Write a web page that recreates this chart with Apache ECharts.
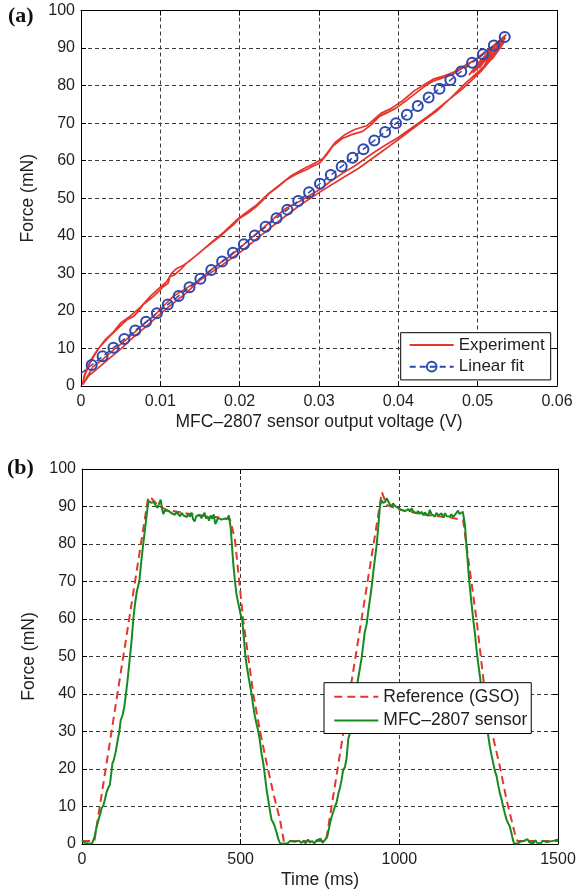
<!DOCTYPE html>
<html>
<head>
<meta charset="utf-8">
<script src="https://cdn.jsdelivr.net/npm/echarts@6/dist/echarts.min.js"></script>
<style>
html,body{margin:0;padding:0;background:#fff;}
#chart{width:583px;height:893px;}
</style>
</head>
<body>
<div id="chart"></div>
<script>
// ---------- Panel (a): force vs. sensor output voltage ----------
const expV = [
0.0003,0.0015,0.0028,0.0041,0.0053,0.0066,0.0078,0.0091,0.0104,0.0116,0.0131,0.0146,0.0160,0.0175,0.0188,0.0200,0.0215,0.0229,0.0244,0.0259,0.0276,0.0290,0.0301,0.0315,0.0330,0.0345,0.0359,0.0372,0.0385,0.0400,0.0414,0.0428,0.0443,0.0454,0.0464,0.0475,0.0485,0.0495,0.0504,0.0512,0.0519,0.0527,0.0535,
0.0522,0.0530,0.0515,0.0526,0.0508,0.0520,0.0502,0.0512,0.0497,0.0507,0.0489,0.0503,0.0536,
0.0527,0.0519,0.0510,0.0502,0.0493,0.0485,0.0476,0.0468,0.0455,0.0443,0.0432,0.0422,0.0410,0.0397,0.0386,0.0376,0.0366,0.0355,0.0342,0.0330,0.0317,0.0309,0.0301,0.0292,0.0284,0.0271,0.0259,0.0248,0.0238,0.0229,0.0221,0.0210,0.0200,0.0192,0.0183,0.0175,0.0164,0.0154,0.0143,0.0133,0.0125,0.0118,0.0112,0.0110,0.0104,0.0097,0.0091,0.0084,0.0078,0.0072,0.0066,0.0059,0.0053,0.0044,0.0036,0.0029,0.0024,0.0017,0.0011,0.0006,0.0003,
0.0002,0.0010,0.0020,0.0035,0.0050,0.0065,0.0080,0.0095,0.0110,0.0130,0.0150,0.0175,0.0200,0.0225,0.0250,0.0275,0.0300,0.0325,0.0350,0.0375,0.0400,0.0425,0.0450,0.0465,0.0480,0.0493,0.0505,0.0515,0.0525,0.0533,
0.0518,0.0529,0.0511,0.0524,0.0504,0.0517,0.0494,0.0510,0.0532,
0.0524,0.0514,0.0500,0.0486,0.0470,0.0458,0.0445,0.0434,0.0420,0.0405,0.0390,0.0378,0.0360,0.0345,0.0333,0.0320,0.0305,0.0295,0.0280,0.0265,0.0250,0.0235,0.0220,0.0205,0.0195,0.0180,0.0165,0.0150,0.0138,0.0128,0.0120,0.0114,0.0108,0.0100,0.0088,0.0075,0.0062,0.0050,0.0040,0.0030,0.0020,0.0012,0.0006,0.0003
];
const expF = [
0.7,5.1,7.2,9.6,11.6,14.0,16.3,18.5,21.3,23.8,25.8,27.8,30.3,32.7,34.6,36.7,39.5,42.0,44.8,47.4,49.2,51.0,52.3,54.6,56.7,58.6,60.7,62.6,64.3,66.2,68.3,70.4,72.7,74.6,76.3,78.6,80.7,82.6,84.3,86.0,88.3,90.4,92.8,
88.6,91.8,86.8,90.6,85.2,89.9,84.6,88.2,84.5,87.2,82.8,86.6,93.6,
92.0,90.5,89.1,87.8,86.4,85.2,84.0,82.9,82.0,81.1,79.6,78.0,76.0,74.0,72.8,71.8,69.6,67.8,67.0,66.0,63.8,61.4,59.4,58.5,57.6,56.4,54.9,53.0,51.4,49.4,47.8,46.0,44.7,42.9,41.3,39.8,38.0,36.3,34.4,32.7,30.9,29.6,29.1,27.4,26.5,25.0,23.8,22.6,21.6,19.8,18.5,17.8,16.7,14.8,13.2,11.6,10.5,8.2,6.0,3.5,1.6,
0.3,2.8,4.5,7.2,9.8,12.8,15.5,18.3,21.0,24.3,28.2,31.8,35.5,39.8,44.0,48.0,51.5,54.8,58.0,61.8,65.6,69.6,73.5,76.5,79.0,81.5,84.0,86.5,89.0,91.5,
87.0,90.2,85.6,88.9,85.9,88.4,83.4,87.5,92.6,
91.2,89.5,87.2,85.6,83.6,82.6,81.8,80.4,78.6,75.9,73.8,72.6,69.3,68.3,67.0,64.8,60.6,59.4,57.8,56.0,53.5,51.0,48.0,45.7,44.0,41.0,38.4,35.6,33.5,32.0,31.2,30.0,27.8,26.3,24.0,21.0,18.6,16.8,14.2,12.2,9.4,6.8,4.0,2.0
];
// Linear fit (first entry is the line start at the axis, drawn without a marker)
const fitV = [0,0.00135,0.00272,0.00409,0.00546,0.00683,0.00820,0.00957,0.01094,0.01231,0.01368,0.01505,0.01642,0.01779,0.01916,0.02053,0.02190,0.02327,0.02464,0.02601,0.02738,0.02875,0.03012,0.03149,0.03286,0.03423,0.03560,0.03697,0.03834,0.03971,0.04108,0.04245,0.04382,0.04519,0.04656,0.04793,0.04930,0.05067,0.05204,0.05341];
const fitF = [3.33,5.60,7.89,10.19,12.49,14.79,17.09,19.39,21.69,23.99,26.29,28.58,30.88,33.18,35.48,37.78,40.08,42.38,44.68,46.97,49.27,51.57,53.87,56.17,58.47,60.77,63.07,65.37,67.66,69.96,72.26,74.56,76.86,79.16,81.46,83.76,86.06,88.35,90.65,92.95];

// ---------- Panel (b): force vs. time ----------
const refT = [0,39,209,219,240,267,300,361,420,466,470,482,508,540,561,582,603,624,636,769,945,960,1002,1086,1159,1201,1212,1243.5,1270,1291,1317,1338,1364,1372,1500];
const refF = [0.8,0.8,92.6,92.2,90.2,89.1,88.6,87.7,87.2,86.6,85.5,81.1,59.7,39.9,30.1,21.5,13.5,6.4,0.8,0.8,93.8,90.4,89.1,87.7,87.1,86.4,79.3,59.7,40.2,30.1,20.6,11.7,2.8,0.8,0.8];

const senT = [
0,4,8,12,16,20,24,28,32,36,40,46,52,58,62,67,72,78,84,88,93.5,96,100,106,112,117.6,122,128,133,138.6,144,150,156,161.7,167,173,180.6,187,193,200,207,210,214,218,222,226,232,238,244,248,252,256,261,266,272,277,282,288,293,298,304,309,314,320,325,330,335,340,345,350,355,360,366,371,376,381,386,391,396,400,405,410,415,420,424,429,434,439,444,448,453,458,463,466,
469,473,477,482,487,493,499,505,510,515,520,526,534.6,540,545,550,555.6,561,566,571.3,576,581.8,586,590,594,597.6,602,607,613.4,618,623.8,
628,635,640,648,656,662,670,676,684,690,698,705,712,718,725,732,740,746,752,758,764,769,
773,778,781.4,786,790,797,802,808,813,818,823,828.6,834,839,844,849,855,860,865,870,876,881,886,891,896.7,902,907,912,918,923,928,933,938.7,941,944,
948,952,955,960,965,970,975.6,980,986,991,996,1002,1007,1012,1018,1023,1028,1033,1039,1044,1049,1054,1059,1065,1070,1075,1080,1086,1091,1096,1101,1107,1112,1117,1122,1128,1133,1138,1144,1149,1154,1159,1164,1170,1175,1180,1185,1190,1196,1200,1204,
1207,1210,1214,1218,1222,1227,1232,1238,1243,1248,1254,1259,1264,1270,1275,1280,1285,1291,1296,1301,1306.5,1312,1317,1322,1327,1333,1338,1343,1348,1353,1357,1361,
1367,1373,1380,1386,1392,1398,1404,1410,1416,1422,1428,1434,1440,1446,1452,1458,1464,1470,1476,1482,1488,1494,1500
];
const senF = [
1.0,0.8,0.3,0.6,0.2,0.5,0.1,0.4,0.2,0.6,2.0,4.6,6.5,8.2,9.6,10.2,11.8,14.0,15.2,15.8,19.8,21.6,22.3,24.5,27.5,30.0,33.0,34.4,36.5,40.0,44.0,49.0,54.0,60.0,64.0,67.5,70.0,75.5,80.0,85.0,90.0,91.5,91.7,91.0,90.6,91.2,90.3,89.6,91.0,91.8,89.5,88.0,88.9,88.4,88.9,88.6,88.2,88.6,87.8,88.5,88.0,87.4,88.3,87.6,87.9,87.2,88.0,87.3,88.4,86.6,86.0,87.4,87.0,87.8,86.9,87.6,88.3,86.8,87.4,86.2,87.6,86.7,87.9,85.3,86.0,87.0,87.3,86.5,86.1,86.7,86.3,86.8,87.6,87.3,
84.0,79.0,74.5,70.0,66.5,64.0,61.5,59.7,55.0,50.0,47.0,44.0,39.9,36.5,34.0,32.0,30.1,27.3,24.0,21.5,18.5,14.4,12.3,10.1,8.0,6.4,5.8,4.8,3.0,1.5,0.2,
0.4,0.1,0.5,0.2,0.8,0.3,0.6,0.1,0.9,0.3,0.7,0.2,1.2,0.4,0.8,0.2,1.0,0.5,1.4,0.3,0.9,0.5,
2.0,4.0,5.5,7.0,7.5,10.0,11.0,13.5,15.0,17.1,19.8,20.5,23.0,28.0,29.5,32.5,38.5,40.0,41.5,44.0,47.0,49.5,53.0,56.5,58.5,62.0,65.0,68.0,72.5,76.0,79.3,84.0,89.9,90.8,91.7,
91.0,91.5,91.2,92.2,91.9,90.6,90.0,90.8,90.2,90.4,89.6,89.8,89.1,89.6,88.8,88.6,89.3,88.7,89.5,88.6,89.0,88.2,88.8,88.0,88.6,87.7,88.4,88.2,87.5,89.1,88.0,87.8,87.3,88.3,87.6,87.7,88.2,87.1,88.2,87.4,87.9,87.3,87.9,87.2,87.7,88.3,88.9,88.0,87.7,88.6,88.2,
85.0,81.1,77.0,72.5,68.7,64.5,60.5,56.3,52.0,48.5,44.7,41.5,38.0,35.0,32.0,29.0,26.1,23.5,21.5,19.5,18.1,15.5,13.5,12.0,10.0,8.0,6.5,5.5,4.7,3.0,1.5,0.2,
0.5,0.1,0.6,0.2,0.8,0.3,1.3,0.4,0.7,0.2,1.0,0.3,0.6,0.2,0.9,0.4,0.5,0.2,0.7,0.3,0.9,0.6,1.2
];

// ---------- Labels ----------
const labelA = '(a)';
const labelB = '(b)';
const xNameA = 'MFC\u20132807 sensor output voltage (V)';
const xNameB = 'Time (ms)';
const yName = 'Force (mN)';
const legendA = ['Experiment', 'Linear fit'];
const legendB = ['Reference (GSO)', 'MFC\u20132807 sensor'];

const RED = '#e3362c', BLUE = '#2d48ae', GREEN = '#168a1e';
const FONT = '"Liberation Sans", Arial, Helvetica, sans-serif';

const zip = (a, b) => a.map((v, i) => [v, b[i]]);
const fitData = fitV.map((v, i) => i === 0 ? { value: [v, fitF[i]], symbol: 'none' } : [v, fitF[i]]);

const gridLine = { show: true, lineStyle: { color: '#3a3a3a', width: 1, type: [4, 3] } };
const tickStyle = { show: true, inside: true, length: 5, lineStyle: { color: '#000', width: 1 } };
const lbl = { fontSize: 16, color: '#1e1e1e', fontFamily: FONT };
const nameStyle = { fontSize: 17.5, color: '#1e1e1e', fontFamily: FONT };

function mainX(gi, min, max, interval, name, fmt) {
  return { gridIndex: gi, type: 'value', min, max, interval, position: 'bottom',
    axisLine: { show: true, onZero: false, lineStyle: { color: '#000', width: 1 } },
    axisTick: tickStyle, axisLabel: Object.assign({ margin: 8, formatter: fmt }, lbl),
    splitLine: gridLine, name, nameLocation: 'middle', nameGap: 27, nameTextStyle: nameStyle };
}
function sideX(gi, min, max, interval) {
  return { gridIndex: gi, type: 'value', min, max, interval, position: 'top',
    axisLine: { show: true, onZero: false, lineStyle: { color: '#000', width: 1 } },
    axisTick: tickStyle, axisLabel: { show: false }, splitLine: { show: false } };
}
function mainY(gi, name) {
  return { gridIndex: gi, type: 'value', min: 0, max: 100, interval: 10, position: 'left',
    axisLine: { show: true, onZero: false, lineStyle: { color: '#000', width: 1 } },
    axisTick: tickStyle, axisLabel: Object.assign({ margin: 6 }, lbl),
    splitLine: gridLine, name, nameLocation: 'middle', nameGap: 36, nameTextStyle: nameStyle };
}
function sideY(gi) {
  return { gridIndex: gi, type: 'value', min: 0, max: 100, interval: 10, position: 'right',
    axisLine: { show: true, onZero: false, lineStyle: { color: '#000', width: 1 } },
    axisTick: tickStyle, axisLabel: { show: false }, splitLine: { show: false } };
}
const noMarker = { opacity: 0 };

const chart = echarts.init(document.getElementById('chart'), null, { renderer: 'canvas' });
chart.setOption({
  animation: false,
  backgroundColor: '#fff',
  textStyle: { fontFamily: FONT },
  grid: [
    { left: 81, top: 10.5, width: 476, height: 375.5, containLabel: false },
    { left: 82, top: 469, width: 476, height: 375, containLabel: false }
  ],
  xAxis: [
    mainX(0, 0, 0.06, 0.01, xNameA, v => String(+v.toFixed(2))),
    sideX(0, 0, 0.06, 0.01),
    mainX(1, 0, 1500, 500, xNameB, v => String(v)),
    sideX(1, 0, 1500, 500)
  ],
  yAxis: [ mainY(0, yName), sideY(0), mainY(1, yName), sideY(1) ],
  legend: [
    { data: [ { name: legendA[0], itemStyle: noMarker }, { name: legendA[1] } ],
      orient: 'vertical', left: 400.7, top: 332.7,
      padding: [3.5, 6, 4.5, 8], itemGap: 4.2, itemWidth: 44, itemHeight: 12,
      backgroundColor: '#fff', borderColor: '#000', borderWidth: 1, borderRadius: 0,
      textStyle: { fontSize: 17, color: '#1e1e1e', fontFamily: FONT, lineHeight: 17.5 },
      selectedMode: false },
    { data: [ { name: legendB[0], itemStyle: noMarker }, { name: legendB[1], itemStyle: noMarker } ],
      orient: 'vertical', left: 324, top: 682.7,
      padding: [5, 4, 4, 9.3], itemGap: 5.8, itemWidth: 44, itemHeight: 10,
      backgroundColor: '#fff', borderColor: '#000', borderWidth: 1, borderRadius: 0,
      textStyle: { fontSize: 17.5, color: '#1e1e1e', fontFamily: FONT, lineHeight: 17.5 },
      selectedMode: false }
  ],
  graphic: [
    { type: 'text', left: 8, top: 5, style: { text: labelA, font: 'bold 22px "Liberation Serif", "Times New Roman", serif', fill: '#111' } },
    { type: 'text', left: 7, top: 457, style: { text: labelB, font: 'bold 22px "Liberation Serif", "Times New Roman", serif', fill: '#111' } }
  ],
  series: [
    { name: legendA[0], type: 'line', xAxisIndex: 0, yAxisIndex: 0, data: zip(expV, expF),
      symbol: 'none', showSymbol: false, lineStyle: { color: RED, width: 1.7 }, itemStyle: { color: RED }, z: 2 },
    { name: legendA[1], type: 'line', xAxisIndex: 0, yAxisIndex: 0, data: fitData,
      symbol: 'circle', symbolSize: 10, showSymbol: true,
      lineStyle: { color: BLUE, width: 1.5, type: [6, 4] },
      itemStyle: { color: 'rgba(255,255,255,0)', borderColor: BLUE, borderWidth: 2 }, z: 3 },
    { name: legendB[0], type: 'line', xAxisIndex: 2, yAxisIndex: 2, data: zip(refT, refF),
      symbol: 'none', showSymbol: false, lineStyle: { color: RED, width: 2, type: [8, 5] }, itemStyle: { color: RED }, z: 2 },
    { name: legendB[1], type: 'line', xAxisIndex: 2, yAxisIndex: 2, data: zip(senT, senF),
      symbol: 'none', showSymbol: false, lineStyle: { color: GREEN, width: 2 }, itemStyle: { color: GREEN }, z: 3 }
  ]
});
</script>
</body>
</html>
